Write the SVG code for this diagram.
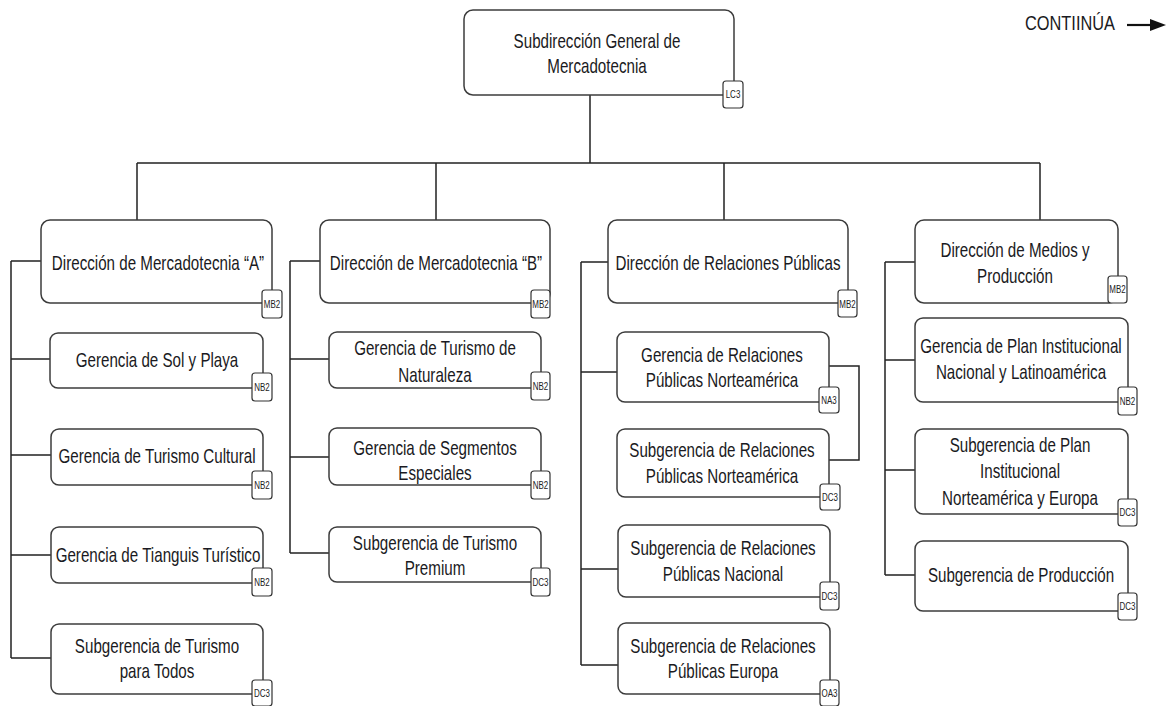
<svg xmlns="http://www.w3.org/2000/svg" width="1169" height="706" viewBox="0 0 1169 706">
<style>
.bx{fill:#fff;stroke:#3c3c3c;stroke-width:1.5}
.bd{fill:#fff;stroke:#333;stroke-width:1.2}
.t{font-family:"Liberation Sans",Arial,sans-serif;font-size:20.5px;fill:#1a1a22;text-anchor:middle}
.s{font-family:"Liberation Sans",Arial,sans-serif;font-size:10px;fill:#222;text-anchor:middle}
.c{fill:none;stroke:#222;stroke-width:1.5}
</style>
<rect width="1169" height="706" fill="#fff"/>
<g id="connectors">
<path class="c" d="M590,95V163M137,163H1040M137,163V220M436,163V220M724,163V220M1040,163V220"/>
<path class="c" d="M11,261V658M11,261H41M11,359H50M11,455H51M11,555H51M11,658H51"/>
<path class="c" d="M290,261V553M290,261H320M290,359H329M290,457H329M290,553H329"/>
<path class="c" d="M581,262V665M581,262H608M581,372H617M581,569H618M581,665H618M829,366H859V460H829"/>
<path class="c" d="M885,262V575M885,262H915M885,360H915M885,470H915M885,575H915"/>
</g>
<g id="continua">
<text class="t" transform="translate(1070 30) scale(0.78 1)" style="font-size:21px">CONTIINÚA</text>
<line x1="1127" y1="25" x2="1152" y2="25" stroke="#111" stroke-width="2.2"/>
<polygon points="1150,19 1166,25 1150,31" fill="#111"/>
</g>
<g id="n0"><rect class="bx" x="464" y="10" width="270" height="85" rx="9"/><text class="t" transform="translate(597 48) scale(0.74 1)">Subdirección General de</text><text class="t" transform="translate(597 73) scale(0.74 1)">Mercadotecnia</text><rect class="bd" x="723" y="81" width="20" height="27" rx="3"/><text class="s" transform="translate(733 98) scale(0.8 1)">LC3</text></g>
<g id="a0"><rect class="bx" x="41" y="220" width="231" height="83" rx="9"/><text class="t" transform="translate(158 270) scale(0.74 1)">Dirección de Mercadotecnia “A”</text><rect class="bd" x="262" y="290" width="20" height="28" rx="3"/><text class="s" transform="translate(272 308) scale(0.8 1)">MB2</text></g>
<g id="a1"><rect class="bx" x="50" y="333" width="213" height="55" rx="8"/><text class="t" transform="translate(157 367) scale(0.74 1)">Gerencia de Sol y Playa</text><rect class="bd" x="252" y="373" width="20" height="28" rx="3"/><text class="s" transform="translate(262 391) scale(0.8 1)">NB2</text></g>
<g id="a2"><rect class="bx" x="51" y="429" width="212" height="56" rx="8"/><text class="t" transform="translate(157 463) scale(0.74 1)">Gerencia de Turismo Cultural</text><rect class="bd" x="252" y="471" width="20" height="28" rx="3"/><text class="s" transform="translate(262 489) scale(0.8 1)">NB2</text></g>
<g id="a3"><rect class="bx" x="51" y="527" width="212" height="56" rx="8"/><text class="t" transform="translate(158 562) scale(0.74 1)">Gerencia de Tianguis Turístico</text><rect class="bd" x="252" y="568" width="20" height="28" rx="3"/><text class="s" transform="translate(262 586) scale(0.8 1)">NB2</text></g>
<g id="a4"><rect class="bx" x="51" y="624" width="212" height="70" rx="8"/><text class="t" transform="translate(157 653) scale(0.74 1)">Subgerencia de Turismo</text><text class="t" transform="translate(157 678) scale(0.74 1)">para Todos</text><rect class="bd" x="252" y="680" width="20" height="26" rx="3"/><text class="s" transform="translate(262 697) scale(0.8 1)">DC3</text></g>
<g id="b0"><rect class="bx" x="320" y="220" width="230" height="83" rx="9"/><text class="t" transform="translate(436 270) scale(0.74 1)">Dirección de Mercadotecnia “B”</text><rect class="bd" x="531" y="290" width="19" height="28" rx="3"/><text class="s" transform="translate(540.5 308) scale(0.8 1)">MB2</text></g>
<g id="b1"><rect class="bx" x="329" y="332" width="212" height="56" rx="8"/><text class="t" transform="translate(435 355) scale(0.74 1)">Gerencia de Turismo de</text><text class="t" transform="translate(435 382) scale(0.74 1)">Naturaleza</text><rect class="bd" x="531" y="372" width="19" height="28" rx="3"/><text class="s" transform="translate(540.5 390) scale(0.8 1)">NB2</text></g>
<g id="b2"><rect class="bx" x="329" y="428" width="212" height="57" rx="8"/><text class="t" transform="translate(435 455) scale(0.74 1)">Gerencia de Segmentos</text><text class="t" transform="translate(435 480) scale(0.74 1)">Especiales</text><rect class="bd" x="531" y="471" width="19" height="28" rx="3"/><text class="s" transform="translate(540.5 489) scale(0.8 1)">NB2</text></g>
<g id="b3"><rect class="bx" x="329" y="527" width="212" height="55" rx="8"/><text class="t" transform="translate(435 550) scale(0.74 1)">Subgerencia de Turismo</text><text class="t" transform="translate(435 575) scale(0.74 1)">Premium</text><rect class="bd" x="531" y="568" width="19" height="28" rx="3"/><text class="s" transform="translate(540.5 586) scale(0.8 1)">DC3</text></g>
<g id="c0"><rect class="bx" x="608" y="220" width="240" height="83" rx="9"/><text class="t" transform="translate(728 270) scale(0.74 1)">Dirección de Relaciones Públicas</text><rect class="bd" x="838" y="290" width="19" height="27" rx="3"/><text class="s" transform="translate(847.5 308) scale(0.8 1)">MB2</text></g>
<g id="c1"><rect class="bx" x="617" y="332" width="212" height="70" rx="8"/><text class="t" transform="translate(722 362) scale(0.74 1)">Gerencia de Relaciones</text><text class="t" transform="translate(722 387) scale(0.74 1)">Públicas Norteamérica</text><rect class="bd" x="819" y="387" width="20" height="26" rx="3"/><text class="s" transform="translate(829 404) scale(0.8 1)">NA3</text></g>
<g id="c2"><rect class="bx" x="617" y="429" width="212" height="68" rx="8"/><text class="t" transform="translate(722 457) scale(0.74 1)">Subgerencia de Relaciones</text><text class="t" transform="translate(722 483) scale(0.74 1)">Públicas Norteamérica</text><rect class="bd" x="820" y="484" width="20" height="26" rx="3"/><text class="s" transform="translate(830 501) scale(0.8 1)">DC3</text></g>
<g id="c3"><rect class="bx" x="618" y="525" width="212" height="72" rx="8"/><text class="t" transform="translate(723 555) scale(0.74 1)">Subgerencia de Relaciones</text><text class="t" transform="translate(723 581) scale(0.74 1)">Públicas Nacional</text><rect class="bd" x="820" y="582" width="19" height="28" rx="3"/><text class="s" transform="translate(829.5 600) scale(0.8 1)">DC3</text></g>
<g id="c4"><rect class="bx" x="618" y="623" width="212" height="71" rx="8"/><text class="t" transform="translate(723 653) scale(0.74 1)">Subgerencia de Relaciones</text><text class="t" transform="translate(723 678) scale(0.74 1)">Públicas Europa</text><rect class="bd" x="820" y="680" width="19" height="26" rx="3"/><text class="s" transform="translate(829.5 697) scale(0.8 1)">OA3</text></g>
<g id="d0"><rect class="bx" x="915" y="220" width="203" height="83" rx="9"/><text class="t" transform="translate(1015 257) scale(0.74 1)">Dirección de Medios y</text><text class="t" transform="translate(1015 283) scale(0.74 1)">Producción</text><rect class="bd" x="1108" y="276" width="19" height="27" rx="3"/><text class="s" transform="translate(1117.5 293) scale(0.8 1)">MB2</text></g>
<g id="d1"><rect class="bx" x="915" y="318" width="213" height="84" rx="8"/><text class="t" transform="translate(1021 353) scale(0.74 1)">Gerencia de Plan Institucional</text><text class="t" transform="translate(1021 379) scale(0.74 1)">Nacional y Latinoamérica</text><rect class="bd" x="1118" y="387" width="19" height="28" rx="3"/><text class="s" transform="translate(1127.5 405) scale(0.8 1)">NB2</text></g>
<g id="d2"><rect class="bx" x="915" y="429" width="213" height="85" rx="8"/><text class="t" transform="translate(1020 452) scale(0.74 1)">Subgerencia de Plan</text><text class="t" transform="translate(1020 478) scale(0.74 1)">Institucional</text><text class="t" transform="translate(1020 505) scale(0.74 1)">Norteamérica y Europa</text><rect class="bd" x="1118" y="499" width="19" height="27" rx="3"/><text class="s" transform="translate(1127.5 516) scale(0.8 1)">DC3</text></g>
<g id="d3"><rect class="bx" x="915" y="541" width="213" height="70" rx="8"/><text class="t" transform="translate(1021 582) scale(0.74 1)">Subgerencia de Producción</text><rect class="bd" x="1118" y="593" width="19" height="27" rx="3"/><text class="s" transform="translate(1127.5 610) scale(0.8 1)">DC3</text></g>
</svg>
